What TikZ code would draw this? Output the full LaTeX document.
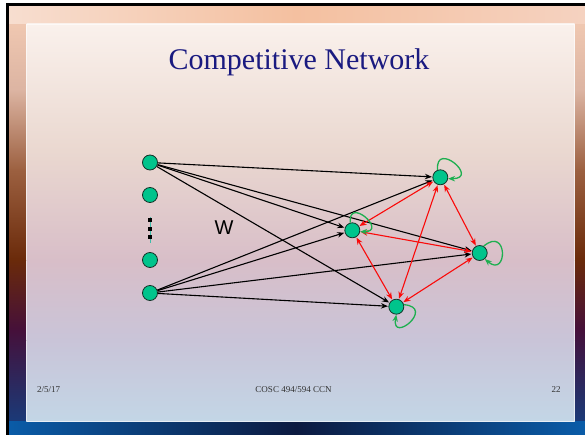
\documentclass[tikz,border=0pt]{standalone}
\usepackage{fontspec}
\setmainfont{Liberation Serif}
\newfontfamily\wfont{Liberation Sans}
\usetikzlibrary{arrows.meta}
\definecolor{nodefill}{RGB}{0,196,140}
\definecolor{nodeedge}{RGB}{20,50,40}
\definecolor{loopgreen}{RGB}{30,175,80}
\definecolor{redline}{RGB}{250,10,10}
\definecolor{titleblue}{RGB}{26,26,128}
\definecolor{dotteal}{RGB}{60,190,170}
\definecolor{footgray}{RGB}{50,50,50}
\tikzset{
  unit/.style={circle,minimum size=15pt,inner sep=0pt,draw=nodeedge,line width=0.8pt,fill=nodefill},
  wire/.style={line width=1.1pt,black,-{Stealth[length=7pt,width=5.5pt]},shorten >=0.5pt},
  inhib/.style={line width=1.1pt,redline,{Stealth[length=7pt,width=5.5pt]}-{Stealth[length=7pt,width=5.5pt]},shorten >=0.5pt,shorten <=0.5pt},
  selfloop/.style={line width=1.3pt,loopgreen,-{Stealth[length=7pt,width=5.5pt]}},
  footer/.style={font=\fontsize{9}{10}\selectfont,text=footgray,anchor=base},
  dotsq/.style={fill=black,minimum size=4pt,inner sep=0pt,rectangle}
}
\begin{document}
\begin{tikzpicture}[x=1pt,y=-1pt]
\useasboundingbox (0,0) rectangle (585,435);
% page
\fill[white] (0,0) rectangle (585,435);
% outer slide background
\shade[top color={rgb,255:red,245;green,205;blue,181},bottom color={rgb,255:red,220;green,180;blue,162}] (7,5) rectangle (585,90.5);
\shade[top color={rgb,255:red,220;green,180;blue,162},bottom color={rgb,255:red,156;green,96;blue,64}] (7,90) rectangle (585,170.5);
\shade[top color={rgb,255:red,156;green,96;blue,64},bottom color={rgb,255:red,106;green,42;blue,10}] (7,170) rectangle (585,260.5);
\shade[top color={rgb,255:red,106;green,42;blue,10},bottom color={rgb,255:red,69;green,16;blue,58}] (7,260) rectangle (585,330.5);
\shade[top color={rgb,255:red,69;green,16;blue,58},bottom color={rgb,255:red,26;green,58;blue,120}] (7,330) rectangle (585,421.5);
\shade[left color={rgb,255:red,10;green,92;blue,168},right color={rgb,255:red,10;green,92;blue,168},middle color={rgb,255:red,12;green,26;blue,64}] (7,421) rectangle (585,435);
\shade[left color={rgb,255:red,247;green,222;blue,208},right color={rgb,255:red,245;green,210;blue,192},middle color={rgb,255:red,244;green,192;blue,160}] (7,5) rectangle (585,24);
% black frame lines
\draw[black,line width=2.5pt] (7.25,435) -- (7.25,4.75) -- (585,4.75);
% panel
\shade[top color={rgb,255:red,250;green,241;blue,236},bottom color={rgb,255:red,234;green,216;blue,208}] (26.5,24) rectangle (574.5,150.5);
\shade[top color={rgb,255:red,234;green,216;blue,208},bottom color={rgb,255:red,216;green,190;blue,200}] (26.5,150) rectangle (574.5,260.5);
\shade[top color={rgb,255:red,216;green,190;blue,200},bottom color={rgb,255:red,201;green,196;blue,216}] (26.5,260) rectangle (574.5,340.5);
\shade[top color={rgb,255:red,201;green,196;blue,216},bottom color={rgb,255:red,195;green,214;blue,230}] (26.5,340) rectangle (574.5,421);
\draw[white,opacity=0.6,line width=0.6pt] (26.5,24) rectangle (574.5,421);
% title and footer
\node[font=\fontsize{30}{34}\selectfont,text=titleblue,anchor=base] (title) at (299,70) {Competitive Network};
\node[footer] (date) at (48.5,392) {2/5/17};
\node[footer] (course) at (293.5,392) {COSC 494/594 CCN};
\node[footer] (page) at (556,392) {22};
% input nodes
\node[unit] (i1) at (150,162.5) {};
\node[unit] (i2) at (150,195) {};
\node[unit] (i4) at (150,260) {};
\node[unit] (i5) at (150,293) {};
\coordinate (dtop) at (150,217);
\coordinate (dbot) at (150,243);
\draw[dotteal,line width=0.9pt] (dtop) -- (dbot);
\node[dotsq] (d1) at (150,220) {};
\node[dotsq] (d2) at (150,228.7) {};
\node[dotsq] (d3) at (150,237.3) {};
\node[font=\wfont\fontsize{20}{22}\selectfont,text=black] (W) at (224,227.5) {W};
% output nodes
\node[unit] (A) at (440.3,177.3) {};
\node[unit] (B) at (352.3,230.3) {};
\node[unit] (C) at (479.7,253) {};
\node[unit] (D) at (396.3,306.7) {};
% feed-forward weights
\foreach \s in {i1,i5}{
  \foreach \t in {A,B,C,D}{
    \draw[wire] (\s) -- (\t);
  }
}
% lateral inhibition
\draw[inhib] (A) -- (B);
\draw[inhib] (A) -- (C);
\draw[inhib] (A) -- (D);
\draw[inhib] (B) -- (C);
\draw[inhib] (B) -- (D);
\draw[inhib] (C) -- (D);
% self excitation
\draw[selfloop] (A.110) .. controls +(95:30pt) and +(0:32pt) .. (A.-10);
\draw[selfloop] (B.105) .. controls +(95:27pt) and +(0:28pt) .. (B.-10);
\draw[selfloop] (C.60) .. controls +(40:32pt) and +(-40:30pt) .. (C.-50);
\draw[selfloop] (D.15) .. controls +(-5:32pt) and +(-100:30pt) .. (D.-90);
\end{tikzpicture}
\end{document}
